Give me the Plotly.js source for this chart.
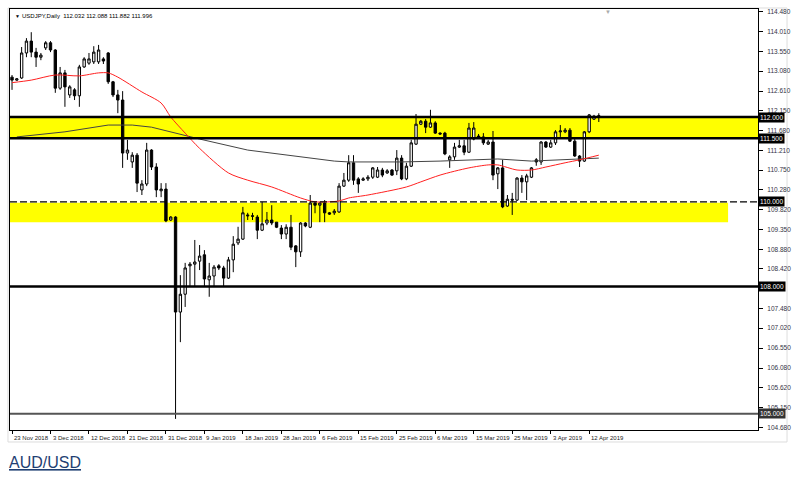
<!DOCTYPE html>
<html>
<head>
<meta charset="utf-8">
<script src="https://cdn.plot.ly/plotly-3.0.1.min.js"></script>
<style>
  html, body { margin: 0; padding: 0; background: #ffffff; }
  #chart { width: 800px; height: 479px; }
</style>
</head>
<body>
<div id="chart"></div>
<script>
// ---- Data (USDJPY Daily) ----
const openP = [112.94,112.87,112.92,113.51,113.79,113.53,113.41,113.63,113.75,113.58,
  112.68,113.04,112.52,112.64,112.50,113.18,113.27,113.30,113.30,113.37,
  113.51,112.83,112.52,112.40,111.15,110.94,111.10,110.28,110.42,111.22,
  110.82,110.26,110.30,109.57,109.64,107.40,107.82,108.49,108.53,108.60,
  108.75,108.16,108.25,108.49,108.44,108.20,108.63,109.03,109.12,109.69,
  109.67,109.64,109.33,109.50,109.57,109.52,109.38,109.24,109.40,108.96,
  108.82,109.50,109.40,109.97,109.92,109.97,109.74,109.74,109.76,110.37,
  110.51,110.92,110.54,110.51,110.54,110.58,110.58,110.75,110.68,110.75,
  110.73,111.03,110.54,110.84,111.36,111.83,111.90,111.76,111.86,111.62,
  111.62,110.99,111.06,111.29,111.32,111.17,111.48,111.55,111.53,111.36,
  111.41,110.66,110.80,109.90,110.06,110.04,110.56,110.47,110.58,110.99,
  110.94,111.41,111.29,111.39,111.65,111.65,111.69,111.43,111.08,110.96,
  111.65,111.95,112.032];
const highP = [112.99,112.92,113.65,113.86,114.00,113.63,113.51,113.79,113.79,113.60,
  113.18,113.11,112.75,112.68,113.23,113.41,113.51,113.67,113.70,113.41,
  113.53,112.85,112.64,112.61,111.46,111.17,111.15,110.51,111.39,111.24,
  110.91,110.44,110.44,109.66,109.66,108.27,108.56,108.58,109.10,108.98,
  108.86,108.56,108.51,108.53,108.49,108.70,109.19,109.41,109.88,109.74,
  109.74,109.69,110.00,109.76,109.92,109.52,109.45,109.47,109.69,108.98,
  109.52,109.52,110.16,110.00,110.00,110.04,109.76,109.83,110.44,110.68,
  111.10,111.10,110.58,110.58,110.63,110.82,110.82,110.80,110.77,110.77,
  111.22,111.10,110.92,111.46,112.07,111.93,111.95,112.17,111.90,111.64,
  111.65,111.10,111.39,111.46,111.46,111.86,111.88,111.60,111.62,111.46,
  111.67,110.82,110.99,110.16,110.21,110.58,110.63,110.66,110.82,111.03,
  111.43,111.43,111.46,111.69,111.81,111.74,111.74,111.48,111.10,111.67,
  112.07,112.05,112.088];
const lowP = [112.64,112.85,112.90,113.41,113.41,113.18,113.34,113.58,113.53,112.57,
  112.64,112.24,112.45,112.40,112.24,113.16,113.23,113.25,113.25,113.25,
  112.78,112.47,112.09,110.80,110.99,110.80,110.23,110.16,110.37,110.75,
  110.11,110.11,109.52,109.55,104.88,106.69,107.52,107.99,107.99,108.39,
  107.99,107.76,107.99,108.39,107.99,108.18,108.34,108.98,109.10,109.57,
  109.57,109.12,109.31,109.45,109.45,109.38,109.12,109.12,108.86,108.46,
  108.70,109.40,109.38,109.73,109.52,109.52,109.69,109.69,109.74,110.35,
  110.47,110.40,110.21,110.49,110.49,110.54,110.56,110.58,110.66,110.61,
  110.63,110.51,110.51,110.82,111.34,111.81,111.62,111.74,111.60,111.58,
  111.10,110.80,110.99,111.27,111.10,111.15,111.45,111.50,111.34,111.34,
  110.51,110.30,109.85,109.88,109.69,110.02,110.21,110.04,110.56,110.85,
  110.87,111.27,111.27,111.34,111.53,111.62,111.41,111.06,110.82,110.94,
  111.62,111.93,111.882];
const closeP = [112.87,112.90,113.51,113.79,113.53,113.41,113.46,113.75,113.58,112.68,
  113.04,112.71,112.71,112.50,113.18,113.37,113.37,113.53,113.58,113.32,
  112.83,112.52,112.40,111.15,111.22,111.10,110.44,110.42,111.22,110.82,
  110.28,110.30,109.55,109.64,107.40,107.82,108.44,108.53,108.58,108.72,
  108.18,108.25,108.46,108.44,108.20,108.63,109.00,109.12,109.74,109.67,
  109.66,109.33,109.48,109.57,109.50,109.40,109.24,109.40,108.93,108.82,
  109.50,109.43,109.97,109.92,109.97,109.74,109.71,109.78,110.37,110.51,
  110.92,110.51,110.42,110.54,110.58,110.80,110.75,110.63,110.73,110.63,
  111.03,110.54,110.84,111.39,111.83,111.90,111.76,111.86,111.62,111.60,
  111.13,111.06,111.29,111.32,111.17,111.74,111.74,111.53,111.39,111.41,
  110.63,110.80,109.88,110.06,110.04,110.56,110.47,110.61,110.80,110.94,
  111.41,111.29,111.39,111.65,111.67,111.69,111.43,111.08,110.96,111.65,
  112.05,112.02,111.996];

// moving averages (bar index -> price)
const fastMaBar = [0,4,9,14,18,20,22,27,31,33,36,39,45,49,54,60,63,68,70,74,82,85,89,95,99,101,105,108,111,115,118,122];
const fastMaVal = [112.81,112.87,112.99,112.97,113.04,113.04,112.94,112.59,112.33,112.00,111.62,111.26,110.68,110.51,110.35,110.09,110.00,110.02,110.09,110.16,110.35,110.47,110.63,110.80,110.87,110.87,110.75,110.75,110.82,110.92,110.99,111.10];
const slowMaBar = [1,11,20,25,29,33,37,39,49,60,67,70,81,89,101,108,115,122];
const slowMaVal = [111.53,111.65,111.81,111.81,111.76,111.65,111.53,111.48,111.22,111.06,110.96,110.94,110.94,110.96,111.01,110.96,110.99,111.03];

// axes labels
const xTickBars = [0,8,16,24,32,40,48,56,64,72,80,88,96,104,112,120];
const xTickLabels = ['23 Nov 2018','3 Dec 2018','12 Dec 2018','21 Dec 2018','31 Dec 2018','9 Jan 2019','18 Jan 2019','28 Jan 2019','6 Feb 2019','15 Feb 2019','25 Feb 2019','6 Mar 2019','15 Mar 2019','25 Mar 2019','3 Apr 2019','12 Apr 2019'];
const yTickVals = [114.48,114.01,113.55,113.08,112.61,112.15,111.68,111.21,110.75,110.28,109.82,109.35,108.88,108.42,107.48,107.02,106.55,106.08,105.62,105.15,104.68];

// horizontal levels
const levelLines = [112.0, 111.5, 108.0];
const dashedLevel = 110.0;
const bottomLevel = 105.0;
const zoneUpper = [111.5, 112.0];
const zoneLower = [109.52, 109.98];
const levelBoxes = [112.0, 111.5, 110.0, 108.0, 105.0];

const titleText = 'USDJPY,Daily  112.032 112.088 111.882 111.996';
const linkText = 'AUD/USD';

const bars = openP.map((_, i) => i);
const FONT = 'Liberation Sans, Arial, sans-serif';

const traces = [
  {
    type: 'scatter', mode: 'lines', x: slowMaBar, y: slowMaVal,
    line: {color: '#444444', width: 1}, hoverinfo: 'skip', showlegend: false
  },
  {
    type: 'scatter', mode: 'lines', x: fastMaBar, y: fastMaVal,
    line: {color: '#ff2020', width: 1, shape: 'spline', smoothing: 0.8}, hoverinfo: 'skip', showlegend: false
  },
  {
    type: 'candlestick', x: bars, open: openP, high: highP, low: lowP, close: closeP,
    whiskerwidth: 0,
    increasing: {line: {color: '#000000', width: 1}, fillcolor: '#ffffff'},
    decreasing: {line: {color: '#000000', width: 1}, fillcolor: '#000000'},
    hoverinfo: 'skip', showlegend: false
  }
];

const shapes = [
  {type: 'rect', xref: 'paper', yref: 'y', x0: 0, x1: 1, y0: zoneUpper[0], y1: zoneUpper[1],
   fillcolor: '#ffff00', line: {width: 0}, layer: 'below'},
  {type: 'rect', xref: 'paper', yref: 'y', x0: 0, x1: 0.96, y0: zoneLower[0], y1: zoneLower[1],
   fillcolor: '#ffff00', line: {width: 0}, layer: 'below'},
  {type: 'line', xref: 'paper', yref: 'y', x0: 0, x1: 1, y0: dashedLevel, y1: dashedLevel,
   line: {color: '#000000', width: 1.3, dash: '7px,3px'}, layer: 'above'},
  {type: 'line', xref: 'paper', yref: 'y', x0: 0, x1: 1, y0: bottomLevel, y1: bottomLevel,
   line: {color: '#555555', width: 2}, layer: 'above'},
  // outer panel border
  {type: 'rect', xref: 'paper', yref: 'paper', x0: -0.0027, x1: 1.0388, y0: -0.0285, y1: 1.0024,
   fillcolor: 'rgba(0,0,0,0)', line: {color: '#dddddd', width: 1}, layer: 'below'}
];
levelLines.forEach(v => shapes.push({type: 'line', xref: 'paper', yref: 'y', x0: 0, x1: 1, y0: v, y1: v,
  line: {color: '#000000', width: 2.5}, layer: 'above'}));

const annotations = [];
xTickBars.forEach((b, i) => annotations.push({
  xref: 'x', yref: 'paper', x: b, y: -0.006, xanchor: 'left', yanchor: 'top', xshift: 0,
  text: xTickLabels[i], showarrow: false, font: {family: FONT, size: 6, color: '#222222'}
}));
levelBoxes.forEach(v => annotations.push({
  xref: 'paper', yref: 'y', x: 1, y: v, xanchor: 'left', yanchor: 'middle', xshift: 0,
  text: v.toFixed(3), showarrow: false, bgcolor: v === bottomLevel ? '#333333' : '#000000',
  borderpad: 1, font: {family: FONT, size: 6.5, color: '#ffffff'}
}));
annotations.push({xref: 'paper', yref: 'paper', x: 0.0134, y: 0.983, xanchor: 'left', yanchor: 'middle',
  text: titleText, showarrow: false, font: {family: FONT, size: 6, color: '#000000'}});
annotations.push({xref: 'paper', yref: 'paper', x: 0.004, y: 0.983, xanchor: 'left', yanchor: 'middle',
  text: '▼', showarrow: false, font: {family: FONT, size: 5, color: '#000000'}});
annotations.push({xref: 'paper', yref: 'paper', x: (608 - 10) / 748, y: 0.993, xanchor: 'center', yanchor: 'middle',
  text: '▼', showarrow: false, font: {family: FONT, size: 6, color: '#aaaaaa'}});
annotations.push({xref: 'paper', yref: 'paper', x: -0.0040, y: -0.077, xanchor: 'left', yanchor: 'middle',
  text: '<u>' + linkText + '</u>', showarrow: false, font: {family: FONT, size: 16, color: '#1f3f73'}});

const layout = {
  width: 800, height: 479,
  margin: {l: 10, r: 42, t: 9, b: 49, pad: 0},
  paper_bgcolor: '#ffffff', plot_bgcolor: '#ffffff',
  showlegend: false, hovermode: false,
  xaxis: {
    type: 'linear', range: [-0.42, 155.1], showgrid: false, zeroline: false,
    showline: true, linecolor: '#000000', linewidth: 1, mirror: true,
    tickvals: xTickBars, ticks: 'outside', ticklen: 3, tickcolor: '#000000', tickwidth: 1,
    showticklabels: false, rangeslider: {visible: false}, fixedrange: true
  },
  yaxis: {
    side: 'right', range: [104.618, 114.547], showgrid: false, zeroline: false,
    showline: true, linecolor: '#000000', linewidth: 1, mirror: true,
    tickvals: yTickVals, ticktext: yTickVals.map(v => v.toFixed(3)),
    ticks: 'outside', ticklen: 4, tickcolor: '#000000', ticklabelstandoff: 3,
    tickfont: {family: FONT, size: 6.5, color: '#333344'}, fixedrange: true
  },
  shapes: shapes,
  annotations: annotations
};

Plotly.newPlot('chart', traces, layout, {displayModeBar: false, staticPlot: true});
</script>
</body>
</html>
